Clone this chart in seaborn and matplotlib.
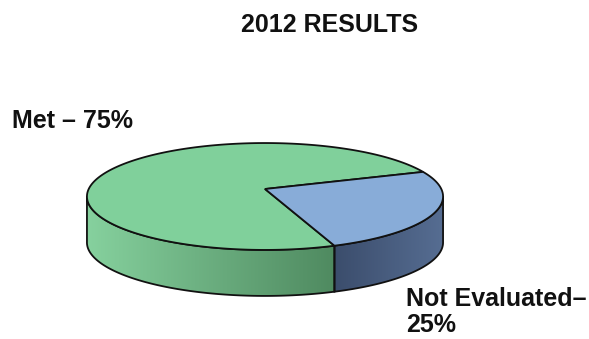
import numpy as np
import matplotlib
matplotlib.use("Agg")
import matplotlib.pyplot as plt
from matplotlib.patches import Polygon, PathPatch
from matplotlib.path import Path
from matplotlib.colors import LinearSegmentedColormap
import seaborn as sns

sns.set_theme(style="white")
plt.rcParams['font.family'] = ['Liberation Sans', 'DejaVu Sans']

# ---- data ----
categories = ["Met", "Not Evaluated"]
values = [75, 25]
labels = ["Met \u2013 75%", "Not Evaluated\u2013", "25%"]
title = "2012 RESULTS"

top_colors = ["#80d09b", "#88acd8"]
side_left = ["#86d19e", "#3b4d6c"]
side_right = ["#4f8a60", "#566d92"]

fig = plt.figure(figsize=(5.89, 3.39), dpi=100)
ax = fig.add_axes([0, 0, 1, 1])
ax.set_xlim(0, 589)
ax.set_ylim(339, 0)
ax.axis("off")

# perspective-projected disc
cx, cy, a, b, k, depth = 265, 189, 176.3, 52.4, 0.14, 46

def pt(theta_deg, dy=0.0):
    t = np.radians(theta_deg)
    s = 1.0 / (1.0 + k * np.sin(t))
    return cx + a * np.cos(t) * s, cy - b * np.sin(t) * s + dy

# silhouette angles (horizontal extremes of the projected rim)
edge = np.degrees(np.arcsin(k))

total = sum(values)
start = 20.0
green_span = 360 * values[0] / total
blue_span = 360 * values[1] / total
spans = [(start, start + green_span), (start - blue_span, start)]

# front side of each slice
for i, (t1, t2) in enumerate(spans):
    lo, hi = t1 % 360, (t1 % 360) + (t2 - t1)
    for off in (-360, 0, 360):
        s = max(lo + off, 180 + edge)
        e = min(hi + off, 360 - edge)
        if e <= s:
            continue
        th = np.linspace(s, e, 160)
        top = [pt(t) for t in th]
        bot = [pt(t, depth) for t in th[::-1]]
        verts = top + bot
        path = Path(verts + [verts[0]],
                    [Path.MOVETO] + [Path.LINETO] * (len(verts) - 1) + [Path.CLOSEPOLY])
        xs = [v[0] for v in verts]
        ys = [v[1] for v in verts]
        cmap = LinearSegmentedColormap.from_list("side%d" % i, [side_left[i], side_right[i]])
        grad = np.linspace(0, 1, 256).reshape(1, -1)
        im = ax.imshow(grad, cmap=cmap,
                       extent=(min(xs), max(xs), max(ys) + 1, min(ys) - 1),
                       aspect="auto", zorder=1)
        patch = PathPatch(path, facecolor="none", edgecolor="#111111", lw=1.3, zorder=2)
        ax.add_patch(patch)
        im.set_clip_path(patch)

# top faces
for i, (t1, t2) in enumerate(spans):
    th = np.linspace(t1, t2, 240)
    verts = [(cx, cy)] + [pt(t) for t in th]
    ax.add_patch(Polygon(verts, closed=True, facecolor=top_colors[i],
                         edgecolor="#111111", lw=1.3, zorder=3))

tkw = dict(fontsize=18, fontweight="bold", color="#111111", va="center")
ax.text(330, 25, title, ha="center", **tkw)
ax.text(12, 121, labels[0], ha="left", **tkw)
ax.text(406, 299, labels[1], ha="left", **tkw)
ax.text(406, 325, labels[2], ha="left", **tkw)

fig.savefig("out.png", dpi=100)
